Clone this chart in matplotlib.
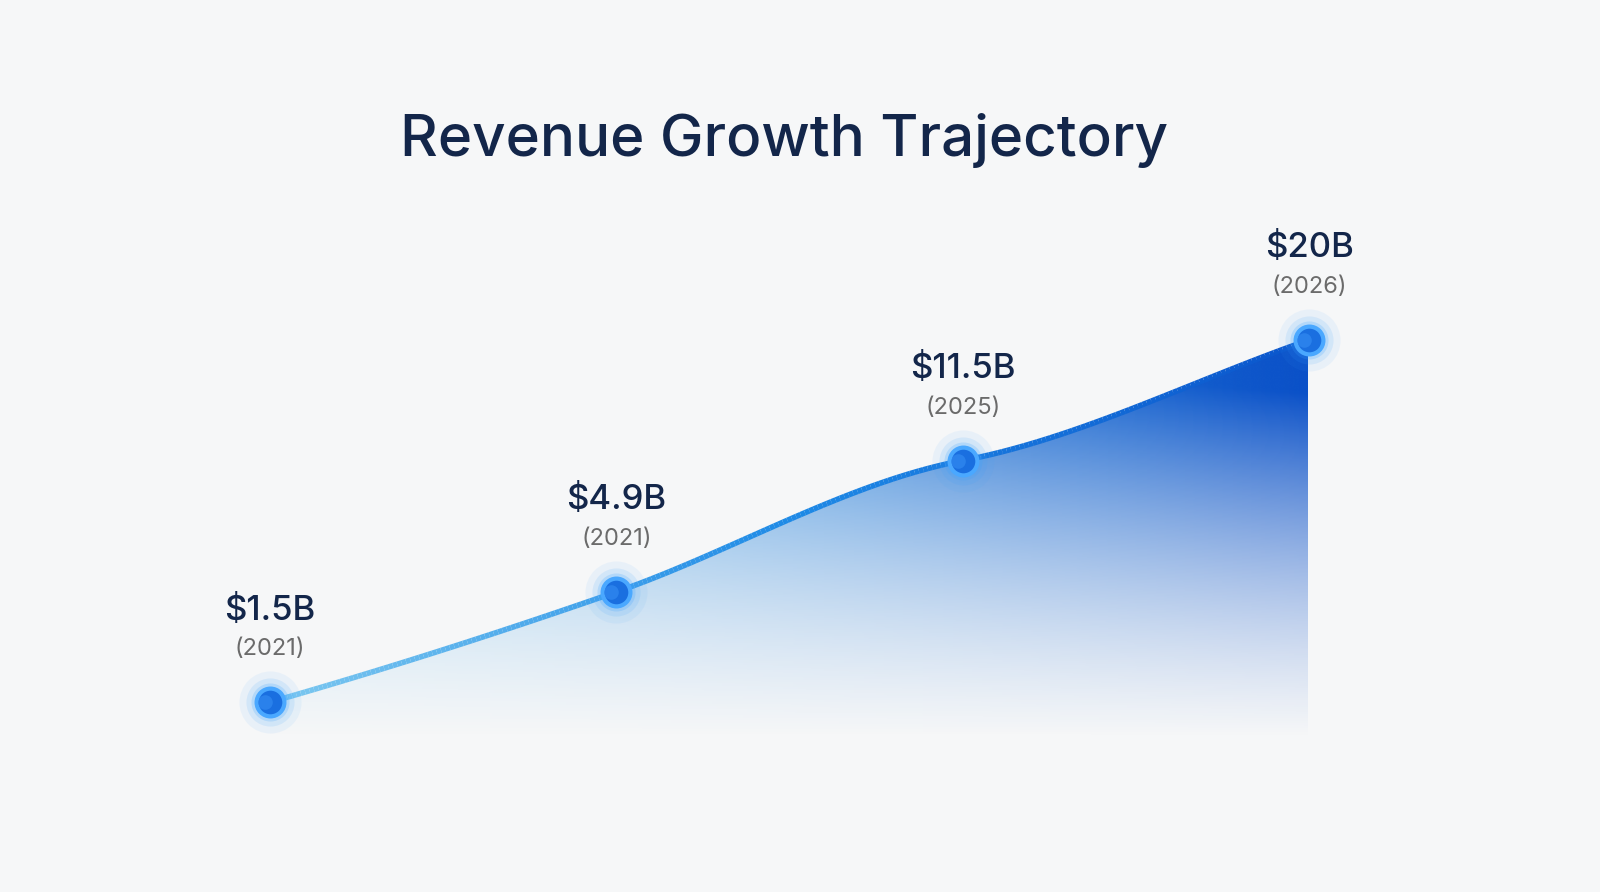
import numpy as np
import matplotlib.pyplot as plt
from matplotlib.collections import LineCollection
from matplotlib.colors import LinearSegmentedColormap, to_rgb

plt.rcParams['font.family'] = ['Inter', 'DejaVu Sans']

revenue = [1.5, 4.9, 11.5, 20.0]
value_labels = ["$1.5B", "$4.9B", "$11.5B", "$20B"]
year_labels = ["(2021)", "(2021)", "(2025)", "(2026)"]
xs = np.arange(len(revenue))

def fwd(v):
    return np.sign(v) * np.sqrt(np.abs(v))

def inv(t):
    return np.sign(t) * t ** 2

fig = plt.figure(figsize=(16, 8.92), dpi=100)
fig.patch.set_facecolor("#f6f7f8")
ax = fig.add_axes([0, 0, 1, 1])
ax.set_facecolor("#f6f7f8")
ax.set_yscale("function", functions=(fwd, inv))
ax.set_xlim(-0.78, 3.84)
ax.set_ylim(inv(-0.477), inv(7.52))
ax.axis("off")

# smooth curve through the points (monotone cubic hermite, drawing only)
t = fwd(np.array(revenue))
d = np.diff(t)
m = np.concatenate([[d[0]], (d[:-1] + d[1:]) / 2, [d[-1]]])
m[0] = d[0] * 0.9
m[2] = d[1] * 0.5
xx, tt = [], []
for i in range(len(t) - 1):
    s = np.linspace(0, 1, 80)
    h00 = 2 * s**3 - 3 * s**2 + 1
    h10 = s**3 - 2 * s**2 + s
    h01 = -2 * s**3 + 3 * s**2
    h11 = s**3 - s**2
    xx.append(xs[i] + s)
    tt.append(h00 * t[i] + h10 * m[i] + h01 * t[i + 1] + h11 * m[i + 1])
xx = np.concatenate(xx)
tt = np.concatenate(tt)
yy = inv(tt)

# gradient fill under curve
base_t = -0.02
ny, nx = 300, 400
c1, c2 = np.array(to_rgb("#4cb4ee")), np.array(to_rgb("#0a50c8"))
hx = np.linspace(0, 1, nx) ** 1.1
img = np.zeros((ny, nx, 4))
img[..., :3] = c1 + (c2 - c1) * hx[None, :, None]
va = np.clip(np.linspace(-0.05, 1.2, ny), 0, 1) ** 0.9
img[..., 3] = np.clip(va[:, None] * (0.75 + 0.3 * hx[None, :]), 0, 1)
im = ax.imshow(img, extent=(0, 3, inv(base_t), inv(t.max())), origin="lower",
               aspect="auto", zorder=1, interpolation="bicubic")
poly = ax.fill_between(xx, inv(base_t), yy, color="none", zorder=1)
im.set_clip_path(poly.get_paths()[0], transform=ax.transData)

# gradient line
pts = np.column_stack([xx, yy]).reshape(-1, 1, 2)
segs = np.concatenate([pts[:-1], pts[1:]], axis=1)
cmap = LinearSegmentedColormap.from_list("ln", ["#7cc8f0", "#1e8ae6", "#0a55cc"])
lc = LineCollection(segs, colors=cmap(np.linspace(0, 1, len(segs))), linewidth=4, zorder=3)
ax.add_collection(lc)

# glowing markers
for s, a in [(2000, 0.07), (1200, 0.12), (750, 0.2)]:
    ax.scatter(xs, revenue, s=s, color="#3aa0ff", alpha=a, lw=0, zorder=4)
ax.scatter(xs, revenue, s=400, color="#1a6fe0", edgecolor="#4aa8ff", lw=3, zorder=5)
ax.scatter(xs - 0.015, np.array(revenue), s=110, color="#2f86ee", lw=0, zorder=6, alpha=0.8)

for x, v, vl, yl in zip(xs, revenue, value_labels, year_labels):
    ax.annotate(vl, (x, v), xytext=(0, 66), textcoords="offset points", ha="center",
                va="center", fontsize=25, color="#13264a", fontweight="medium", zorder=7)
    ax.annotate(yl, (x, v), xytext=(0, 38), textcoords="offset points", ha="center",
                va="center", fontsize=17, color="#6b6b6b", zorder=7)

fig.text(0.49, 0.843, "Revenue Growth Trajectory", ha="center", va="center",
         fontsize=42, color="#13264a", fontweight="medium")

fig.savefig("out.png", dpi=100, facecolor=fig.get_facecolor())
